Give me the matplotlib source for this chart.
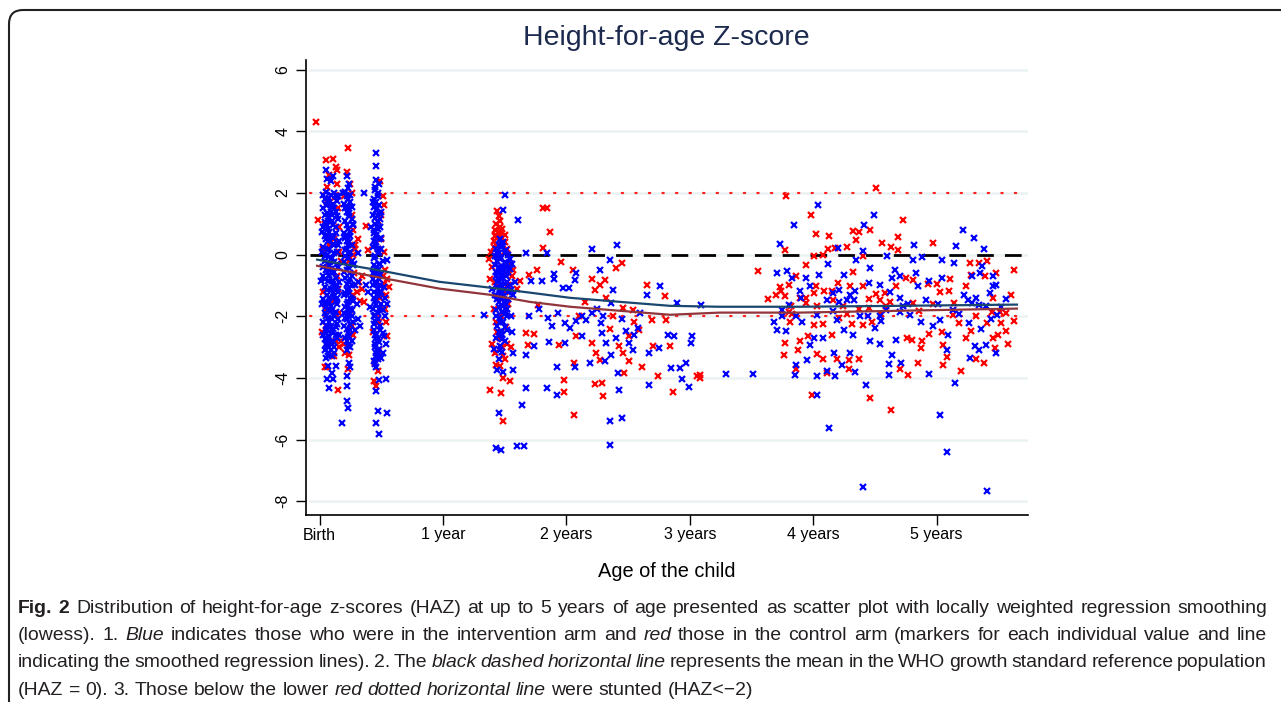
import matplotlib
matplotlib.use("Agg")
import matplotlib.pyplot as plt
from matplotlib.patches import FancyBboxPatch
from matplotlib.transforms import IdentityTransform

plt.rcParams['font.family'] = ['Liberation Sans', 'DejaVu Sans']

# ---------------- data (age in years, HAZ) ----------------
x_ticks = [0, 1, 2, 3, 4, 5]
x_labels = ['Birth', '1 year', '2 years', '3 years', '4 years', '5 years']
y_ticks = [-8, -6, -4, -2, 0, 2, 4, 6]

lowess_age = [-0.02, 0.5, 0.97, 1.38, 1.70, 2.03, 2.43, 2.84, 3.24, 3.89, 4.70, 5.65]
lowess_blue = [-0.16, -0.52, -0.88, -1.07, -1.23, -1.40, -1.53, -1.66, -1.69, -1.69, -1.66, -1.62]
lowess_red = [-0.36, -0.75, -1.10, -1.30, -1.53, -1.69, -1.82, -1.95, -1.88, -1.88, -1.82, -1.75]

blue_birth = [(0.05,2.05),(0.09,1.95),(0.12,2.0),(0.04,1.8),(0.07,1.7),(0.14,1.75),(0.10,1.55),(0.03,1.5),
    (0.06,1.35),(0.13,1.4),(0.08,1.2),(0.15,1.15),(0.04,1.05),(0.11,0.95),(0.07,0.85),(0.02,0.75),(0.13,0.7),
    (0.09,0.6),(0.05,0.5),(0.16,0.45),(0.11,0.35),(0.03,0.25),(0.08,0.2),(0.14,0.1),(0.06,0.0),(0.10,-0.1),
    (0.04,-0.2),(0.12,-0.25),(0.08,-0.35),(0.15,-0.4),(0.05,-0.5),(0.10,-0.6),(0.03,-0.7),(0.13,-0.75),
    (0.07,-0.85),(0.11,-0.95),(0.04,-1.05),(0.09,-1.1),(0.15,-1.2),(0.06,-1.3),(0.12,-1.35),(0.03,-1.45),
    (0.08,-1.55),(0.14,-1.6),(0.05,-1.7),(0.10,-1.8),(0.04,-1.9),(0.12,-1.95),(0.07,-2.05),(0.15,-2.1),
    (0.03,-2.2),(0.09,-2.3),(0.13,-2.35),(0.05,-2.45),(0.11,-2.55),(0.07,-2.65),(0.04,-2.75),(0.14,-2.7),
    (0.09,-2.85),(0.06,-2.95),(0.12,-3.0),(0.04,-3.1),(0.08,-3.2),(0.05,-3.35),(0.10,-3.3),(0.06,2.45),
    (0.09,2.4),(0.05,2.75),(0.11,2.55),(0.07,-3.6),(0.06,-4.05),(0.11,-4.05),(0.08,-4.33),(0.13,-3.62),
    (0.10,-3.84),(0.02,0.1),(0.16,-0.9),(0.02,-1.6),(0.16,-2.6),(0.01,-0.87),(0.07,0.45),(0.09,-0.45),
    (0.11,1.65),(0.05,-2.55),(0.13,-1.05),(0.07,1.1),(0.12,-2.0),(0.08,-3.0),(0.06,0.65),(0.12,0.3),
    (0.03,-0.4),(0.14,-1.4),(0.06,-2.3),(0.10,1.3),(0.08,-0.7),(0.05,1.6),
    (0.03,1.95),(0.13,1.9),(0.08,1.85),(0.06,1.6),(0.12,1.5),(0.09,1.4),(0.04,1.3),(0.14,1.25),(0.10,1.1),
    (0.06,0.95),(0.13,0.9),(0.08,0.75),(0.04,0.6),(0.11,0.55),(0.15,0.3),(0.07,0.15),(0.12,0.05),(0.04,-0.05),
    (0.09,-0.15),(0.14,-0.3),(0.06,-0.45),(0.12,-0.55),(0.08,-0.65),(0.04,-0.8),(0.10,-0.85),(0.14,-1.0),
    (0.06,-1.15),(0.11,-1.25),(0.08,-1.4),(0.13,-1.5),(0.04,-1.6),(0.09,-1.65),(0.07,-1.8),(0.13,-1.85),
    (0.05,-2.0),(0.10,-2.1),(0.08,-2.2),(0.14,-2.25),(0.06,-2.4),(0.10,-2.45),(0.13,-2.6),(0.07,-2.75),
    (0.11,-2.8),(0.05,-2.9),(0.09,-3.1),(0.12,-3.2),(0.07,-3.3),(0.03,-2.6),(0.03,0.9),(0.15,1.9)]
red_birth = [(-0.03,4.3),(0.05,3.06),(0.11,3.1),(0.13,2.85),(0.14,2.74),(0.08,2.6),(-0.01,1.14),(0.15,1.5),
    (0.04,1.0),(0.12,0.5),(0.16,0.1),(0.07,-0.3),(0.14,-0.7),(0.03,-1.2),(0.10,-1.5),(0.16,-1.9),(0.05,-2.3),
    (0.13,-2.8),(0.09,-2.9),(0.04,-3.63),(0.06,-3.63),(0.15,-4.38),(0.16,0.9),(0.17,-0.2),(0.06,2.2),
    (0.12,1.85),(0.02,-2.5),(0.17,-2.8),(0.08,0.3),(0.03,0.2),(0.15,-1.1),(0.05,-1.8),(0.12,-3.3),
    (0.14,2.3),(0.06,1.7),(0.16,-3.0)]

blue_3m = [(0.22,2.54),(0.24,2.3),(0.21,2.05),(0.25,1.95),(0.23,1.8),(0.20,1.65),(0.26,1.55),(0.22,1.4),
    (0.24,1.25),(0.21,1.1),(0.27,1.0),(0.23,0.85),(0.20,0.7),(0.25,0.6),(0.22,0.45),(0.26,0.3),(0.21,0.15),
    (0.24,0.05),(0.23,-0.1),(0.20,-0.25),(0.27,-0.35),(0.22,-0.5),(0.25,-0.6),(0.21,-0.75),(0.24,-0.9),
    (0.26,-1.0),(0.22,-1.15),(0.20,-1.3),(0.25,-1.4),(0.23,-1.55),(0.21,-1.7),(0.26,-1.8),(0.24,-1.95),
    (0.22,-2.1),(0.27,-2.2),(0.20,-2.3),(0.25,-2.45),(0.23,-2.55),(0.21,-2.7),(0.26,-2.8),(0.24,-2.9),
    (0.22,-3.08),(0.24,-3.52),(0.25,-3.65),(0.22,-3.95),(0.22,-4.27),(0.22,-4.76),(0.23,-4.98),(0.18,-5.47),
    (0.30,-1.6),(0.31,-2.1),(0.29,-2.45),(0.33,-2.3),(0.29,-1.0),(0.31,-0.9),(0.19,2.0),(0.27,0.95),
    (0.28,-0.3),(0.24,-1.25),(0.21,0.55),(0.26,-2.0),(0.23,1.55),(0.36,2.0),(0.31,0.05),(0.38,-1.0),(0.39,-1.2),
    (0.22,1.9),(0.25,1.7),(0.21,1.5),(0.24,1.35),(0.26,1.15),(0.22,0.95),(0.25,0.75),(0.21,0.6),(0.24,0.4),
    (0.22,0.2),(0.25,0.1),(0.21,-0.05),(0.26,-0.2),(0.23,-0.4),(0.20,-0.55),(0.25,-0.8),(0.22,-0.95),
    (0.24,-1.1),(0.21,-1.25),(0.26,-1.45),(0.22,-1.6),(0.25,-1.75),(0.23,-1.9),(0.21,-2.05),(0.25,-2.25),
    (0.22,-2.4),(0.24,-2.65),(0.22,-2.8),(0.25,-3.0),(0.23,-2.95),(0.23,2.15),(0.26,-0.7),(0.20,-1.9),
    (0.27,-1.5),(0.23,0.3)]
red_3m = [(0.23,3.46),(0.22,2.7),(0.25,2.3),(0.26,1.3),(0.27,0.8),(0.29,0.3),(0.24,-0.2),(0.28,-0.6),
    (0.30,-1.2),(0.25,-1.8),(0.27,-2.6),(0.24,-3.25),(0.23,-3.7),(0.21,-3.2),(0.29,0.2),(0.31,0.5),
    (0.33,-1.5),(0.32,-0.9),(0.20,1.9),(0.26,-2.3),(0.38,0.92),(0.36,-1.52),(0.39,0.16),(0.34,-0.7),(0.34,-1.1),
    (0.26,2.0),(0.27,-1.3),(0.20,-2.9),(0.27,0.0)]

blue_6m = [(0.46,3.3),(0.46,2.87),(0.46,2.44),(0.45,2.2),(0.47,2.0),(0.44,1.8),(0.48,1.6),(0.46,1.45),
    (0.43,1.3),(0.49,1.15),(0.45,1.0),(0.47,0.85),(0.44,0.7),(0.50,0.55),(0.46,0.4),(0.43,0.25),(0.48,0.1),
    (0.45,-0.05),(0.51,-0.2),(0.44,-0.35),(0.47,-0.5),(0.49,-0.65),(0.43,-0.8),(0.46,-0.95),(0.52,-1.05),
    (0.44,-1.2),(0.48,-1.35),(0.45,-1.5),(0.50,-1.6),(0.43,-1.75),(0.47,-1.9),(0.53,-2.0),(0.45,-2.15),
    (0.49,-2.3),(0.44,-2.45),(0.51,-2.55),(0.46,-2.7),(0.48,-2.85),(0.45,-3.0),(0.47,-3.15),(0.46,-3.3),
    (0.44,-3.45),(0.46,-3.63),(0.48,-4.06),(0.46,-4.44),(0.47,-5.09),(0.46,-5.47),(0.48,-5.81),(0.54,-4.04),
    (0.55,-5.14),(0.55,-0.18),(0.41,-1.7),(0.53,-1.4),(0.55,-1.6),(0.52,-2.65),(0.54,-2.9),(0.51,-3.2),
    (0.42,0.9),(0.50,1.4),(0.44,-2.0),(0.47,0.2),(0.49,-1.0),(0.45,-0.6),(0.43,1.7),(0.48,2.3),(0.50,-3.35),
    (0.46,0.6),(0.47,-1.25),(0.45,-2.6),(0.48,-0.3),
    (0.45,2.1),(0.47,1.9),(0.46,1.7),(0.44,1.55),(0.48,1.35),(0.45,1.2),(0.47,1.05),(0.49,0.9),(0.44,0.8),
    (0.46,0.65),(0.48,0.5),(0.45,0.35),(0.47,0.05),(0.44,-0.1),(0.49,-0.3),(0.46,-0.45),(0.43,-0.6),
    (0.48,-0.8),(0.45,-0.9),(0.47,-1.1),(0.50,-1.2),(0.44,-1.4),(0.46,-1.6),(0.48,-1.75),(0.45,-1.95),
    (0.47,-2.1),(0.44,-2.25),(0.49,-2.45),(0.46,-2.6),(0.47,-2.75),(0.45,-2.9),(0.48,-3.05),(0.46,-3.2),
    (0.47,-3.4),(0.45,-3.55),(0.47,1.25),(0.50,0.2),(0.43,-1.0),(0.51,-1.8),(0.44,0.45)]
red_6m = [(0.49,2.38),(0.52,1.62),(0.51,1.9),(0.47,1.1),(0.50,0.5),(0.53,-0.5),(0.55,-0.8),(0.52,-0.95),
    (0.54,-1.3),(0.49,-1.4),(0.53,-1.75),(0.48,-2.2),(0.55,-2.65),(0.47,-3.79),(0.46,-4.27),(0.44,-4.1),
    (0.45,-3.5),(0.51,-0.7),(0.56,-1.05),(0.47,0.2),(0.43,-2.5),(0.50,1.3),(0.52,0.1),(0.54,-2.2),
    (0.48,-3.1),(0.49,-1.0)]

blue_18m = [(1.50,1.95),(1.49,1.46),(1.61,1.14),(1.46,0.5),(1.48,0.35),(1.43,0.2),(1.51,0.15),(1.45,0.05),
    (1.53,0.0),(1.47,-0.1),(1.44,-0.2),(1.50,-0.25),(1.42,-0.35),(1.48,-0.4),(1.54,-0.45),(1.46,-0.55),
    (1.51,-0.6),(1.43,-0.7),(1.49,-0.75),(1.45,-0.85),(1.52,-0.9),(1.47,-1.0),(1.44,-1.05),(1.50,-1.1),
    (1.55,-1.15),(1.46,-1.25),(1.42,-1.3),(1.49,-1.35),(1.53,-1.45),(1.45,-1.55),(1.48,-1.65),(1.43,-1.8),
    (1.51,-1.9),(1.46,-2.05),(1.49,-2.2),(1.44,-2.3),(1.52,-2.45),(1.47,-2.55),(1.43,-2.7),(1.50,-2.8),
    (1.46,-2.95),(1.41,-3.05),(1.48,-3.15),(1.45,-3.4),(1.44,-3.75),(1.49,-3.8),(1.57,-3.73),(1.45,-5.14),
    (1.43,-6.28),(1.47,-6.35),(1.60,-6.2),(1.33,-1.95),(1.56,-0.3),(1.58,-0.9),(1.57,-1.3),(1.55,-2.0),
    (1.56,-2.5),(1.57,-3.2),(1.42,-0.05),(1.47,-0.65),(1.51,-1.6),(1.45,0.3),(1.53,-0.55),(1.48,-2.6),
    (1.40,-1.1),(1.54,-0.15),(1.44,-1.45),(1.52,-2.0),
    (1.47,0.25),(1.44,0.1),(1.50,0.05),(1.46,-0.15),(1.52,-0.3),(1.45,-0.4),(1.49,-0.5),(1.43,-0.55),
    (1.51,-0.7),(1.47,-0.8),(1.44,-0.9),(1.50,-0.95),(1.46,-1.1),(1.53,-1.2),(1.48,-1.25),(1.44,-1.35),
    (1.50,-1.5),(1.47,-1.45),(1.45,-1.7),(1.52,-1.75),(1.48,-1.85),(1.46,-2.2),(1.50,-2.35),(1.45,-2.5),
    (1.48,-2.75),(1.46,-3.1),(1.43,-2.0),(1.51,-0.4),(1.49,0.4),(1.54,-1.0)]
red_18m = [(1.44,1.41),(1.45,1.27),(1.43,1.0),(1.46,0.9),(1.42,0.8),(1.48,0.85),(1.45,0.7),(1.50,0.65),
    (1.44,0.55),(1.41,0.45),(1.47,0.4),(1.43,0.3),(1.39,0.1),(1.52,0.2),(1.37,-0.15),(1.40,-0.4),(1.55,-0.3),
    (1.57,-0.5),(1.42,-0.9),(1.50,-1.2),(1.53,-1.0),(1.45,-1.4),(1.41,-1.75),(1.49,-1.9),(1.43,-2.2),
    (1.51,-2.35),(1.46,-2.7),(1.40,-2.9),(1.48,-3.0),(1.55,-3.0),(1.52,-2.9),(1.43,-3.57),(1.49,-4.0),
    (1.47,-4.49),(1.38,-4.40),(1.54,-4.11),(1.49,-5.41),(1.49,-3.3),(1.46,-3.6),(1.53,-1.6),(1.56,-0.7),
    (1.38,-0.8),(1.60,-1.1),(1.62,-0.85),
    (1.46,1.1),(1.43,0.65),(1.48,0.55),(1.45,0.45),(1.42,0.6),(1.47,0.75),(1.50,0.4),(1.41,0.25),
    (1.46,-0.05),(1.44,-0.2),(1.51,-0.6),(1.47,-2.0),(1.44,-2.5),(1.50,-3.4),(1.42,-3.2)]

blue_2y = [(1.67,0.05),(1.84,0.05),(1.71,-0.87),(1.80,-0.87),(1.90,-0.62),(1.90,-0.80),(1.97,-1.08),
    (2.02,-1.08),(2.07,-0.81),(2.08,-0.60),(2.21,0.18),(2.27,-0.49),(2.35,-0.16),(2.41,0.32),(2.38,-1.14),
    (2.36,-1.57),(2.65,-1.30),(2.76,-1.03),(2.90,-1.57),(3.09,-1.62),(1.70,-2.0),(1.85,-2.06),(1.88,-2.33),
    (1.93,-1.89),(1.99,-2.22),(2.03,-2.38),(2.08,-2.16),(2.13,-2.65),(2.16,-2.11),(2.21,-1.89),(2.28,-2.22),
    (2.29,-2.54),(2.32,-2.87),(2.36,-3.25),(2.31,-3.46),(2.42,-3.84),(2.43,-4.38),(2.35,-5.41),(2.45,-5.30),
    (2.35,-6.17),(2.19,-3.52),(2.07,-3.63),(1.92,-3.63),(1.92,-4.55),(1.84,-4.33),(1.67,-4.33),(1.64,-4.87),
    (1.66,-6.20),(1.67,-3.25),(1.74,-2.98),(1.86,-2.84),(1.99,-2.87),(2.48,-2.49),(2.51,-2.87),(2.54,-3.08),
    (2.58,-2.38),(2.67,-3.19),(2.75,-3.03),(2.82,-2.60),(2.87,-2.65),(2.92,-3.68),(2.97,-3.52),(2.94,-4.04),
    (2.99,-4.30),(3.01,-2.87),(3.02,-2.65),(2.67,-4.22),(2.85,-3.68),(3.29,-3.87),(3.51,-3.86),(2.25,-1.75),
    (2.45,-2.1),(2.40,-2.7),(2.30,-2.0),(2.55,-2.6),(2.60,-1.9),(2.13,-2.0),(1.78,-1.75)]
red_2y = [(1.81,1.52),(1.84,1.52),(1.87,0.73),(1.81,0.22),(1.96,-0.25),(2.05,-0.49),(1.76,-0.49),(1.70,-0.65),
    (1.77,-1.62),(1.67,-2.54),(1.74,-2.56),(1.69,-2.92),(1.94,-2.92),(1.98,-4.08),(1.98,-4.45),(2.06,-5.21),
    (2.06,-3.50),(2.08,-2.65),(2.21,-0.79),(2.23,-1.14),(2.27,-1.0),(2.31,-0.81),(2.32,-1.41),(2.40,-0.43),
    (2.45,-0.27),(2.21,-2.87),(2.24,-3.19),(2.27,-3.41),(2.23,-4.19),(2.29,-4.15),(2.30,-4.60),(2.38,-2.0),
    (2.43,-2.98),(2.46,-3.19),(2.47,-3.84),(2.51,-3.46),(2.51,-2.65),(2.54,-1.79),(2.59,-2.44),(2.61,-3.63),
    (2.65,-0.97),(2.69,-2.11),(2.70,-2.98),(2.74,-3.95),(2.80,-1.35),(2.81,-2.11),(2.84,-2.98),(2.86,-4.47),
    (3.06,-3.95),(3.08,-3.90),(2.46,-1.73),(2.10,-2.0),(2.35,-2.4),(2.15,-1.55),(2.55,-2.2),(3.08,-4.0)]

blue_4y = [(4.04,1.62),(3.84,0.97),(4.49,1.30),(4.41,0.97),(3.73,0.36),(4.20,0.22),(4.40,0.11),(4.35,-0.18),
    (4.82,0.32),(4.88,-0.08),(5.04,-0.18),(5.14,-0.27),(5.16,0.29),(5.21,0.79),(5.30,0.54),(5.38,0.18),
    (5.35,-0.60),(5.46,-0.70),(5.48,-0.97),(3.71,-0.60),(3.79,-0.54),(3.83,-0.76),(3.94,-0.76),(4.05,-0.65),
    (4.12,-0.29),(4.25,-0.65),(4.34,-1.19),(4.46,-0.43),(4.45,-0.92),(4.64,-0.76),(4.66,-0.49),(4.70,-1.41),
    (4.73,-1.66),(4.77,-1.59),(4.85,-1.03),(4.94,-0.87),(5.04,-0.76),(5.22,-1.30),(5.25,-1.46),(5.29,-1.57),
    (5.34,-1.62),(5.40,-1.68),(5.43,-1.24),(5.49,-1.95),(5.48,-3.19),(5.40,-2.92),(5.34,-3.08),(5.27,-3.35),
    (5.31,-2.98),(5.26,-2.22),(5.18,-1.92),(5.09,-2.60),(5.08,-3.08),(4.97,-2.33),(4.94,-3.86),(5.03,-5.19),
    (5.08,-6.40),(5.15,-4.15),(5.41,-7.68),(4.40,-7.54),(4.13,-5.63),(4.43,-4.22),(4.03,-4.55),(4.03,-3.95),
    (4.11,-3.79),(4.18,-3.95),(4.34,-3.82),(4.30,-3.19),(4.23,-3.57),(4.17,-3.19),(4.61,-3.54),(4.61,-3.90),
    (4.64,-3.25),(4.71,-3.52),(4.67,-2.76),(4.54,-2.89),(4.46,-2.81),(4.50,-2.38),(4.55,-2.16),(4.44,-2.00),
    (4.32,-2.60),(4.25,-2.43),(4.19,-2.11),(4.16,-1.84),(4.08,-2.71),(4.01,-2.71),(3.97,-2.92),(3.95,-3.41),
    (3.86,-3.57),(3.85,-3.90),(3.78,-2.49),(3.71,-2.43),(3.68,-2.20),(3.75,-1.98),(3.86,-1.98),(3.91,-2.20),
    (4.03,-1.95),(4.21,-1.55),(4.27,-1.46),(4.33,-1.46),(4.38,-2.00),(4.54,-2.00),(4.59,-1.79),(4.70,-1.87),
    (4.78,-1.95),(4.87,-2.20),(5.03,-2.13),(5.13,-1.79),(3.90,-1.41),(3.97,-1.03),(3.89,-1.19),(3.80,-1.62),
    (3.75,-1.79),(4.11,-1.46),(4.16,-1.24),(4.21,-1.14),(4.30,-1.30),(4.54,-0.97),(4.62,-1.22),(4.91,-1.46),
    (5.01,-1.59),(5.32,-1.41),(5.46,-1.01),(5.29,-0.70),(5.37,-0.38),(4.81,-0.16),(4.60,-0.05),(4.70,-0.70),
    (4.83,-0.60),(5.52,-1.7),(5.44,-2.1),(5.36,-2.4),(5.56,-1.45)]
red_4y = [(3.78,1.92),(3.98,1.30),(4.02,0.68),(4.13,0.60),(3.77,0.14),(3.55,-0.54),(3.63,-1.44),(3.73,-1.05),
    (3.80,-0.97),(3.86,-0.70),(3.94,-0.32),(4.01,-0.05),(4.08,0.0),(4.12,0.18),(4.18,0.22),(4.27,0.25),
    (4.32,0.76),(4.37,0.75),(4.35,0.49),(4.40,-0.05),(4.46,0.79),(4.51,2.16),(4.56,0.38),(4.63,0.25),
    (4.69,0.57),(4.69,0.14),(4.73,1.11),(4.81,-0.81),(4.97,0.38),(5.00,-0.94),(5.10,-1.19),(5.27,-0.27),
    (5.34,-0.27),(5.41,-0.22),(5.48,-0.60),(5.63,-0.49),(5.60,-1.30),(5.63,-2.16),(5.56,-2.49),(5.47,-3.03),
    (5.46,-2.71),(5.38,-3.52),(5.32,-3.39),(5.20,-3.76),(5.05,-3.57),(5.08,-3.32),(5.05,-2.92),(5.04,-2.52),
    (4.94,-2.56),(4.88,-2.81),(4.87,-3.03),(4.85,-3.52),(4.80,-2.76),(4.76,-2.71),(4.70,-3.71),(4.77,-3.90),
    (4.63,-5.03),(4.46,-4.65),(4.37,-3.39),(4.29,-3.43),(4.29,-3.71),(4.19,-3.39),(4.11,-3.84),(4.08,-3.39),
    (4.03,-3.21),(3.99,-4.55),(3.88,-3.11),(3.86,-3.71),(3.76,-3.25),(3.77,-2.87),(3.81,-2.20),(3.89,-2.81),
    (3.96,-2.65),(4.01,-2.27),(4.08,-2.24),(4.15,-2.60),(4.21,-2.06),(4.27,-1.92),(4.31,-2.24),(4.40,-2.27),
    (4.48,-2.20),(4.55,-1.92),(4.59,-1.68),(4.45,-1.73),(4.37,-1.77),(4.24,-1.68),(4.16,-1.46),(4.09,-1.19),
    (4.01,-1.24),(3.94,-1.57),(3.89,-1.41),(3.82,-1.66),(3.83,-1.92),(3.74,-1.19),(3.77,-1.33),(4.40,-1.03),
    (4.51,-1.27),(4.45,-1.44),(4.67,-1.03),(4.75,-0.76),(4.81,-1.57),(4.86,-1.84),(4.93,-0.94),(4.97,-1.59),
    (5.03,-1.22),(5.11,-0.79),(5.13,-1.95),(5.18,-2.22),(5.24,-2.71),(5.28,-2.49),(5.32,-2.00),(5.41,-2.22),
    (5.46,-1.41),(5.51,-1.87),(5.52,-2.22),(5.56,-1.89),(5.39,-0.70),(5.28,-0.65),(5.24,-1.03),(5.14,-1.57),
    (4.15,-1.19),(4.32,-0.57),(4.20,-0.92),(4.02,-1.03),(4.03,-1.68),(3.80,-1.87),(3.70,-1.30),(3.94,-1.41),
    (4.30,-1.01),(4.54,-1.46),(4.62,-1.52),(4.58,-1.24),(5.45,-1.85),(5.50,-2.6),(5.58,-2.9)]

blue_groups = [blue_birth, blue_3m, blue_6m, blue_18m, blue_2y, blue_4y]
red_groups = [red_birth, red_3m, red_6m, red_18m, red_2y, red_4y]

# ---------------- figure ----------------
W, H = 1281, 702
fig = plt.figure(figsize=(W / 100, H / 100), dpi=100)
fig.patch.set_facecolor('white')

frame = FancyBboxPatch((9, -40), 1300, 732, boxstyle="round,pad=0,rounding_size=14",
                       transform=IdentityTransform(), facecolor='none', edgecolor='#222222',
                       linewidth=1.5, clip_on=False)
fig.add_artist(frame)

ax_l, ax_r, ax_t, ax_b = 306, 1028, 60, 515
ax = fig.add_axes([ax_l / W, 1 - ax_b / H, (ax_r - ax_l) / W, (ax_b - ax_t) / H])
ax.set_xlim(-0.11, 5.74)
ax.set_ylim(-8.45, 6.32)

for yt in y_ticks:
    ax.axhline(yt, xmin=0.005, xmax=1, color='#eaf2f3', lw=1.8, zorder=0)

ax.axhline(0, color='black', lw=2.0, ls=(0, (6, 4)), xmin=0.005, zorder=1)
ax.axhline(2, color='#ff2020', lw=1.6, ls=(0, (0.6, 5.5)), xmin=0.005, zorder=1, dash_capstyle='round')
ax.axhline(-2, color='#ff2020', lw=1.6, ls=(0, (0.6, 5.5)), xmin=0.005, zorder=1, dash_capstyle='round')

mk = dict(marker='x', linestyle='none', markersize=4.0, markeredgewidth=1.6)
for g in red_groups:
    ax.plot([p[0] for p in g], [p[1] for p in g], color='#ff0000', zorder=2, **mk)
for g in blue_groups:
    ax.plot([p[0] for p in g], [p[1] for p in g], color='#0000ff', zorder=3, **mk)

ax.plot(lowess_age, lowess_blue, color='#1a476f', lw=1.6, zorder=4)
ax.plot(lowess_age, lowess_red, color='#90353b', lw=1.6, zorder=4)

for s in ['top', 'right']:
    ax.spines[s].set_visible(False)
for s in ['left', 'bottom']:
    ax.spines[s].set_linewidth(1.2)
    ax.spines[s].set_color('black')

ax.set_xticks(x_ticks)
ax.set_xticklabels(x_labels, fontsize=11.5)
ax.set_yticks(y_ticks)
ax.set_yticklabels([str(v) for v in y_ticks], fontsize=11.5, rotation=90, va='center')
ax.tick_params(axis='both', length=7, width=1.0, color='black')
ax.tick_params(axis='x', pad=2)
ax.tick_params(axis='y', pad=4)
ax.set_xlabel('Age of the child', fontsize=14.4, labelpad=14)

fig.text(666 / W, 1 - 38 / H, 'Height-for-age Z-score', ha='center', va='center',
         fontsize=20.5, color='#1c2a4e')

# ---------------- caption (justified) ----------------
cap_family = ['Liberation Sans', 'DejaVu Sans']
cap_color = '#231f20'

caption = [
    ([("Fig. 2", 'bold'), (" Distribution of height-for-age z-scores (HAZ) at up to 5 years of age presented as scatter plot with locally weighted regression smoothing", 'normal')], 613, True),
    ([("(lowess). 1. ", 'normal'), ("Blue", 'italic'), (" indicates those who were in the intervention arm and ", 'normal'), ("red", 'italic'), (" those in the control arm (markers for each individual value and line", 'normal')], 640, True),
    ([("indicating the smoothed regression lines). 2. The ", 'normal'), ("black dashed horizontal line", 'italic'), (" represents the mean in the WHO growth standard reference population", 'normal')], 667, True),
    ([("(HAZ = 0). 3. Those below the lower ", 'normal'), ("red dotted horizontal line", 'italic'), (" were stunted (HAZ<\u22122)", 'normal')], 695, False),
]

renderer = fig.canvas.get_renderer()

def style_kw(st, size):
    kw = dict(fontsize=size, family=cap_family, color=cap_color)
    if st == 'bold':
        kw['fontweight'] = 'bold'
    elif st == 'italic':
        kw['fontstyle'] = 'italic'
    return kw

def width_of(s, st, size):
    t = fig.text(0, 0, s, **style_kw(st, size))
    w = t.get_window_extent(renderer).width
    t.remove()
    return w

x0, x1 = 18, 1267
base = 10.0
nat = sum(width_of(t, st, base) for t, st in caption[0][0])
cap_size = base * (x1 - x0) * 0.985 / nat

space_w = width_of('a a', 'normal', cap_size) - width_of('aa', 'normal', cap_size)
for segs, yb, justify in caption:
    words = []
    for txt, st in segs:
        for wd in txt.split(' '):
            if wd:
                words.append((wd, st))
    widths = [width_of(wd, st, cap_size) for wd, st in words]
    if justify and len(words) > 1:
        gap = (x1 - x0 - sum(widths)) / (len(words) - 1)
    else:
        gap = space_w
    x = x0
    for (wd, st), w in zip(words, widths):
        fig.text(x / W, 1 - yb / H, wd, ha='left', va='baseline', **style_kw(st, cap_size))
        x += w + gap

fig.savefig('out.png', dpi=100, facecolor='white')
